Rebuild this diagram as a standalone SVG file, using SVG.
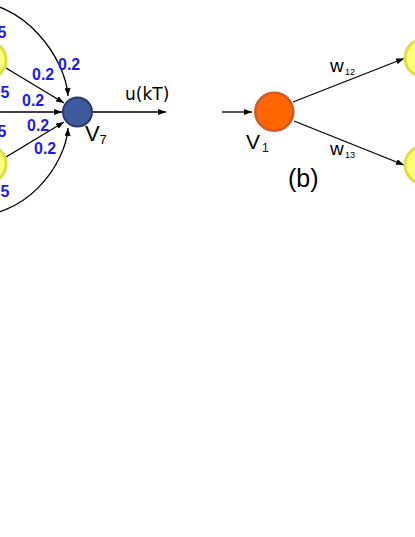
<svg xmlns="http://www.w3.org/2000/svg" width="415" height="537" viewBox="0 0 415 537">
<defs>
<marker id="ah" markerWidth="8" markerHeight="6" refX="8" refY="3" orient="auto" markerUnits="userSpaceOnUse"><path d="M0,0 L8,3 L0,6 z" fill="#000"/></marker>
<style>
.ln{fill:none;stroke:#000;stroke-width:1.3;marker-end:url(#ah)}
.yel{fill:#FFFF7A;stroke:#DEDE48;stroke-width:3}
.wt{font-family:"Liberation Sans",Arial,sans-serif;font-weight:bold;font-size:16px;fill:#1C1CF0}
.lab{font-family:"Liberation Sans",Arial,sans-serif;fill:#000}
.dj{font-family:"DejaVu Sans",sans-serif;fill:#000}
</style>
</defs>
<rect width="415" height="537" fill="#fff"/>
<g id="connectors">
<path class="ln" d="M -35,2 C 25,-2 66,60 68,96"/>
<path class="ln" d="M 6,68 L 64,103"/>
<path class="ln" d="M 0,112 L 62,112"/>
<path class="ln" d="M 6,157 L 64,122"/>
<path class="ln" d="M -35,215 C 25,222 66,164 68,128"/>
<path class="ln" d="M 93,112 L 166,112"/>
<path class="ln" d="M 222,112 L 252,112"/>
<path class="ln" d="M 293,102 L 404,58.5"/>
<path class="ln" d="M 294,121 L 404,165"/>
</g>
<g id="weights">
<text class="wt" x="58" y="69.5">0.2</text>
<text class="wt" x="32" y="79.5">0.2</text>
<text class="wt" x="22" y="106">0.2</text>
<text class="wt" x="27" y="130.5">0.2</text>
<text class="wt" x="34" y="153.5">0.2</text>
<text class="wt" x="6.5" y="37.5" text-anchor="end">0.5</text>
<text class="wt" x="9.5" y="98" text-anchor="end">0.5</text>
<text class="wt" x="6.5" y="137" text-anchor="end">0.5</text>
<text class="wt" x="9.5" y="196.5" text-anchor="end">0.5</text>
</g>
<g id="node-left-top"><circle class="yel" cx="-13" cy="60" r="19"/></g>
<g id="node-left-bottom"><circle class="yel" cx="-13" cy="164" r="19"/></g>
<g id="node-v7">
<circle cx="77.5" cy="112" r="14.5" fill="#3D5A9C" stroke="#2B3A6B" stroke-width="2"/>
<text class="lab" x="85" y="140.5" font-size="22">V</text>
<text class="lab" x="99.5" y="144" font-size="13">7</text>
</g>
<text class="dj" x="125" y="100" font-size="17">u(kT)</text>
<g id="node-v1">
<circle cx="274.3" cy="111.7" r="19" fill="#FF6600" stroke="#D2572A" stroke-width="2.5"/>
<text class="lab" x="246" y="148.5" font-size="21">V</text>
<text class="lab" x="262" y="152" font-size="12">1</text>
</g>
<g id="node-right-top"><circle class="yel" cx="424" cy="58" r="19"/></g>
<g id="node-right-bottom"><circle class="yel" cx="424" cy="165" r="19"/></g>
<text class="lab" x="330" y="71.7" font-size="19">w</text>
<text class="lab" x="345" y="75" font-size="9">12</text>
<text class="lab" x="330" y="155" font-size="19">w</text>
<text class="lab" x="345" y="158" font-size="9">13</text>
<text class="lab" x="288" y="187" font-size="25">(b)</text>
</svg>
